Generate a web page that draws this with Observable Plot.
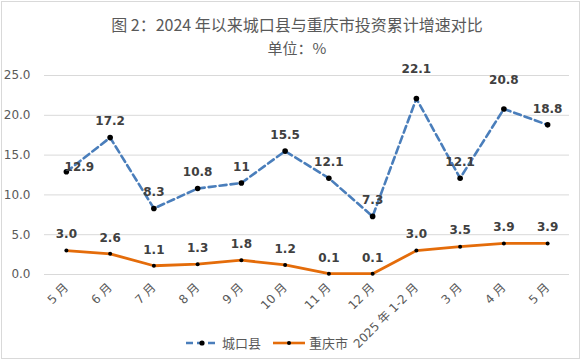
<!DOCTYPE html>
<html>
<head>
<meta charset="utf-8">
<script src="https://cdn.jsdelivr.net/npm/d3@7"></script>
<script src="https://cdn.jsdelivr.net/npm/@observablehq/plot@0.6"></script>
<style>
  html, body { margin: 0; padding: 0; background: #fff; }
  #wrap { position: relative; width: 582px; height: 362px; overflow: hidden; font-family: "DejaVu Sans", "Noto Sans CJK SC", sans-serif; }
  #border { position: absolute; left: 1px; top: 1px; width: 577px; height: 356px; border: 1px solid #d9d9d9; }
  #title { position: absolute; left: 0; top: 13px; width: 594px; text-align: center; font-size: 16px; color: #595959; font-family: "Noto Sans CJK SC", sans-serif; line-height: 22px; }
  #subtitle { position: absolute; left: 0; top: 37px; width: 594px; text-align: center; font-size: 15px; color: #595959; font-family: "Noto Sans CJK SC", sans-serif; line-height: 22px; }
  #chart { position: absolute; left: 0; top: 0; }
  #legend { position: absolute; left: 186px; top: 333px; display: flex; align-items: center; font-size: 13px; color: #595959; font-family: "Noto Sans CJK SC", sans-serif; }
  #legend .item { display: flex; align-items: center; margin-right: 12px; }
  #legend svg { margin-right: 4px; }
</style>
</head>
<body>
<div id="wrap">
  <div id="border"></div>
  <div id="chart"></div>
  <div id="title">图 2：2024 年以来城口县与重庆市投资累计增速对比</div>
  <div id="subtitle">单位：%</div>
  <div id="legend"></div>
</div>
<script>
const categories = ["5 月", "6 月", "7 月", "8 月", "9 月", "10 月", "11 月", "12 月", "2025 年 1-2 月", "3 月", "4 月", "5 月"];
const chengkouValues = [12.9, 17.2, 8.3, 10.8, 11.5, 15.5, 12.1, 7.3, 22.1, 12.1, 20.8, 18.8];
const chengkouLabels = ["12.9", "17.2", "8.3", "10.8", "11", "15.5", "12.1", "7.3", "22.1", "12.1", "20.8", "18.8"];
const chongqingValues = [3.0, 2.6, 1.1, 1.3, 1.8, 1.2, 0.1, 0.1, 3.0, 3.5, 3.9, 3.9];
const yTicks = [0, 5, 10, 15, 20, 25];
const seriesNames = ["城口县", "重庆市"];

const blue = "#4a7ebb";
const orange = "#e46c0a";

const ck = chengkouValues.map((v, i) => ({i, v, label: chengkouLabels[i]}));
const cq = chongqingValues.map((v, i) => ({i, v, label: v.toFixed(1)}));

const highIdx = new Set([8, 10]);
const shiftIdx = new Set([0]);

const plot = Plot.plot({
  width: 582,
  height: 362,
  marginLeft: 44,
  marginRight: 13,
  marginTop: 75,
  marginBottom: 88,
  style: {background: "transparent", fontFamily: "DejaVu Sans, Noto Sans CJK SC, sans-serif", fontSize: "12px", color: "#595959"},
  x: {type: "point", domain: d3.range(categories.length), padding: 0.5, round: false, axis: null},
  y: {domain: [0, 25], axis: null},
  marks: [
    Plot.gridY(yTicks, {stroke: "#d9d9d9", strokeOpacity: 1, strokeWidth: 1}),
    Plot.axisY(yTicks, {tickSize: 0, tickPadding: 14, label: null, tickFormat: d => d.toFixed(1), fill: "#595959", fontSize: 12}),
    Plot.axisX(d3.range(categories.length), {tickSize: 0, tickPadding: 11, label: null, tickRotate: -45, tickFormat: i => categories[i], fill: "#595959", fontSize: 12}),
    Plot.line(cq, {x: "i", y: "v", stroke: orange, strokeWidth: 2.8}),
    Plot.dot(cq, {x: "i", y: "v", r: 2, fill: "black", stroke: "none"}),
    Plot.line(ck, {x: "i", y: "v", stroke: blue, strokeWidth: 2.6, strokeDasharray: "7,4"}),
    Plot.dot(ck, {x: "i", y: "v", r: 2.8, fill: "black", stroke: "none"}),
    Plot.text(ck.filter(d => !highIdx.has(d.i) && !shiftIdx.has(d.i)), {x: "i", y: "v", text: "label", dy: -16, fill: "#404040", fontWeight: "bold", fontSize: 12}),
    Plot.text(ck.filter(d => highIdx.has(d.i)), {x: "i", y: "v", text: "label", dy: -29, fill: "#404040", fontWeight: "bold", fontSize: 12}),
    Plot.text(ck.filter(d => shiftIdx.has(d.i)), {x: "i", y: "v", text: "label", dx: 13, dy: -5, fill: "#404040", fontWeight: "bold", fontSize: 12}),
    Plot.text(cq, {x: "i", y: "v", text: "label", dy: -16, fill: "#404040", fontWeight: "bold", fontSize: 12})
  ]
});
document.getElementById("chart").appendChild(plot);

const legend = document.getElementById("legend");
const sw = (color, dash, r) => `<svg width="32" height="10"><line x1="0" y1="5" x2="32" y2="5" stroke="${color}" stroke-width="2.6" ${dash ? `stroke-dasharray="${dash}"` : ""}/><circle cx="16" cy="5" r="${r}" fill="black"/></svg>`;
legend.innerHTML =
  `<div class="item">${sw(blue, "7,4", 2.6)}<span>${seriesNames[0]}</span></div>` +
  `<div class="item">${sw(orange, null, 2)}<span>${seriesNames[1]}</span></div>`;
</script>
</body>
</html>
